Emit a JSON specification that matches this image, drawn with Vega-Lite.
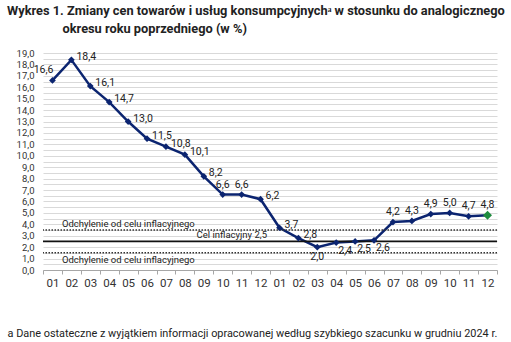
{
  "$schema": "https://vega.github.io/schema/vega-lite/v6.json",
  "width": 454,
  "height": 217,
  "autosize": {"type": "none"},
  "padding": {"left": 43, "top": 53, "right": 14, "bottom": 72},
  "background": "white",
  "config": {
    "locale": {"number": {"decimal": ",", "thousands": " ", "grouping": [3], "currency": ["", " zł"]}},
    "font": "Roboto",
    "view": {"stroke": null},
    "axis": {"labelOverlap": false},
    "text": {"font": "Roboto", "fontSize": 10.5, "color": "#222"}
  },
  "title": {
    "text": "Wykres 1. Zmiany cen towarów i usług konsumpcyjnychᵃ w stosunku do analogicznego",
    "anchor": "start",
    "frame": "group",
    "dx": -36,
    "offset": 4,
    "font": "Roboto",
    "fontSize": 12.8,
    "fontWeight": "bold",
    "color": "#222"
  },
  "datasets": {
    "cpi": [
      {"period": "2023-01", "value": 16.6},
      {"period": "2023-02", "value": 18.4},
      {"period": "2023-03", "value": 16.1},
      {"period": "2023-04", "value": 14.7},
      {"period": "2023-05", "value": 13.0},
      {"period": "2023-06", "value": 11.5},
      {"period": "2023-07", "value": 10.8},
      {"period": "2023-08", "value": 10.1},
      {"period": "2023-09", "value": 8.2},
      {"period": "2023-10", "value": 6.6},
      {"period": "2023-11", "value": 6.6},
      {"period": "2023-12", "value": 6.2},
      {"period": "2024-01", "value": 3.7},
      {"period": "2024-02", "value": 2.8},
      {"period": "2024-03", "value": 2.0},
      {"period": "2024-04", "value": 2.4},
      {"period": "2024-05", "value": 2.5},
      {"period": "2024-06", "value": 2.6},
      {"period": "2024-07", "value": 4.2},
      {"period": "2024-08", "value": 4.3},
      {"period": "2024-09", "value": 4.9},
      {"period": "2024-10", "value": 5.0},
      {"period": "2024-11", "value": 4.7},
      {"period": "2024-12", "value": 4.8}
    ],
    "refs": [
      {"value": 3.5, "label": "Odchylenie od celu inflacyjnego", "kind": "dev"},
      {"value": 2.5, "label": "Cel inflacyjny 2,5", "kind": "target"},
      {"value": 1.5, "label": "Odchylenie od celu inflacyjnego", "kind": "dev"}
    ]
  },
  "resolve": {"axis": {"y": "independent"}},
  "layer": [
    {
      "data": {"name": "cpi"},
      "mark": {"type": "rule", "opacity": 0},
      "encoding": {
        "y": {
          "field": "value", "type": "quantitative",
          "scale": {"domain": [0, 19], "nice": false, "zero": true},
          "axis": {
            "orient": "right",
            "values": [0,0.5,1,1.5,2,2.5,3,3.5,4,4.5,5,5.5,6,6.5,7,7.5,8,8.5,9,9.5,10,10.5,11,11.5,12,12.5,13,13.5,14,14.5,15,15.5,16,16.5,17,17.5,18,18.5,19],
            "tickCount": 100,
            "labels": false,
            "ticks": false,
            "domain": false,
            "grid": true,
            "gridColor": "#d9d9d9",
            "gridWidth": 1,
            "title": null
          }
        }
      }
    },
    {
      "layer": [
        {
          "data": {"name": "cpi"},
          "mark": {"type": "line", "color": "#0b2470", "strokeWidth": 2.5},
          "encoding": {
            "x": {
              "field": "period", "type": "ordinal", "bandPosition": 0.5,
              "scale": {
                "type": "band", "paddingInner": 0, "paddingOuter": 0,
                "domain": ["2023-01","2023-02","2023-03","2023-04","2023-05","2023-06","2023-07","2023-08","2023-09","2023-10","2023-11","2023-12","2024-01","2024-02","2024-03","2024-04","2024-05","2024-06","2024-07","2024-08","2024-09","2024-10","2024-11","2024-12"]
              },
              "axis": {
                "labelExpr": "isString(datum.value) ? substring(datum.value, 5) : ''",
                "labelAngle": 0,
                "labelFontSize": 11.5,
                "labelColor": "#333",
                "labelPadding": 3,
                "tickBand": "extent",
                "tickSize": 4,
                "tickColor": "#a6a6a6",
                "domainColor": "#a6a6a6",
                "grid": false,
                "title": "a Dane ostateczne z wyjątkiem informacji opracowanej według szybkiego szacunku w grudniu 2024 r.",
                "titleX": -36,
                "titleY": 63,
                "titleAlign": "left",
                "titleAnchor": "start",
                "titleBaseline": "middle",
                "titleFontSize": 10.9,
                "titleFontWeight": "normal",
                "titleColor": "#222"
              }
            },
            "y": {
              "field": "value", "type": "quantitative",
              "scale": {"domain": [0, 19], "nice": false, "zero": true},
              "axis": {
                "values": [0,1,2,3,4,5,6,7,8,9,10,11,12,13,14,15,16,17,18,19],
                "tickCount": 100,
                "format": ".1f",
                "labelOverlap": false,
                "labelBound": false,
                "labelFontSize": 9.5,
                "labelColor": "#333",
                "labelPadding": 9,
                "ticks": false,
                "domain": false,
                "grid": false,
                "title": "okresu roku poprzedniego (w %)",
                "titleAngle": 0,
                "titleX": 19,
                "titleY": -25,
                "titleAlign": "left",
                "titleAnchor": "start",
                "titleBaseline": "middle",
                "titleFont": "Roboto",
                "titleFontSize": 12.8,
                "titleFontWeight": "bold",
                "titleColor": "#222"
              }
            }
          }
        },
        {
          "data": {"name": "refs"},
          "transform": [{"filter": "datum.kind == 'dev'"}],
          "mark": {"type": "rule", "color": "#333", "strokeWidth": 1.5, "strokeDash": [1.5, 1.5]},
          "encoding": {"y": {"field": "value", "type": "quantitative"}}
        },
        {
          "data": {"name": "refs"},
          "transform": [{"filter": "datum.kind == 'target'"}],
          "mark": {"type": "rule", "color": "#111", "strokeWidth": 1.8},
          "encoding": {"y": {"field": "value", "type": "quantitative"}}
        },
        {
          "data": {"name": "refs"},
          "transform": [{"filter": "datum.value == 3.5"}],
          "mark": {"type": "text", "align": "left", "baseline": "bottom", "dy": -1, "fontSize": 9.5},
          "encoding": {
            "x": {"datum": "2023-02", "type": "ordinal", "bandPosition": 0},
            "y": {"field": "value", "type": "quantitative"},
            "text": {"field": "label"}
          }
        },
        {
          "data": {"name": "refs"},
          "transform": [{"filter": "datum.value == 2.5"}],
          "mark": {"type": "text", "align": "right", "baseline": "bottom", "dx": -3, "dy": -1, "fontSize": 9.5},
          "encoding": {
            "x": {"datum": "2024-01", "type": "ordinal", "bandPosition": 0},
            "y": {"field": "value", "type": "quantitative"},
            "text": {"field": "label"}
          }
        },
        {
          "data": {"name": "refs"},
          "transform": [{"filter": "datum.value == 1.5"}],
          "mark": {"type": "text", "align": "left", "baseline": "top", "dy": 2, "fontSize": 9.5},
          "encoding": {
            "x": {"datum": "2023-02", "type": "ordinal", "bandPosition": 0},
            "y": {"field": "value", "type": "quantitative"},
            "text": {"field": "label"}
          }
        },
        {
          "data": {"name": "cpi"},
          "transform": [{"filter": "datum.period != '2024-12'"}],
          "mark": {"type": "point", "shape": "diamond", "filled": true, "color": "#0b2470", "size": 45, "opacity": 1},
          "encoding": {
            "x": {"field": "period", "type": "ordinal", "bandPosition": 0.5},
            "y": {"field": "value", "type": "quantitative"}
          }
        },
        {
          "data": {"name": "cpi"},
          "transform": [{"filter": "datum.period == '2024-12'"}],
          "mark": {"type": "point", "shape": "diamond", "filled": true, "color": "#1e8c3e", "size": 80, "opacity": 1},
          "encoding": {
            "x": {"field": "period", "type": "ordinal", "bandPosition": 0.5},
            "y": {"field": "value", "type": "quantitative"}
          }
        },
        {
          "data": {"name": "cpi"},
          "transform": [{"filter": "datum.period == '2023-01'"}],
          "mark": {"type": "text", "align": "right", "baseline": "middle", "dx": 1, "dy": -10},
          "encoding": {
            "x": {"field": "period", "type": "ordinal", "bandPosition": 0.5},
            "y": {"field": "value", "type": "quantitative"},
            "text": {"field": "value", "type": "quantitative", "format": ".1f"}
          }
        },
        {
          "data": {"name": "cpi"},
          "transform": [{"filter": "indexof(['2023-02','2023-03','2023-04','2023-05','2023-06','2023-07','2023-08','2023-09','2023-12','2024-01','2024-02'], datum.period) >= 0"}],
          "mark": {"type": "text", "align": "left", "baseline": "middle", "dx": 5, "dy": -3},
          "encoding": {
            "x": {"field": "period", "type": "ordinal", "bandPosition": 0.5},
            "y": {"field": "value", "type": "quantitative"},
            "text": {"field": "value", "type": "quantitative", "format": ".1f"}
          }
        },
        {
          "data": {"name": "cpi"},
          "transform": [{"filter": "indexof(['2023-10','2023-11','2024-07','2024-08','2024-09','2024-10','2024-11','2024-12'], datum.period) >= 0"}],
          "mark": {"type": "text", "align": "center", "baseline": "middle", "dy": -10},
          "encoding": {
            "x": {"field": "period", "type": "ordinal", "bandPosition": 0.5},
            "y": {"field": "value", "type": "quantitative"},
            "text": {"field": "value", "type": "quantitative", "format": ".1f"}
          }
        },
        {
          "data": {"name": "cpi"},
          "transform": [{"filter": "datum.period == '2024-03'"}],
          "mark": {"type": "text", "align": "center", "baseline": "middle", "dy": 10},
          "encoding": {
            "x": {"field": "period", "type": "ordinal", "bandPosition": 0.5},
            "y": {"field": "value", "type": "quantitative"},
            "text": {"field": "value", "type": "quantitative", "format": ".1f"}
          }
        },
        {
          "data": {"name": "cpi"},
          "transform": [{"filter": "indexof(['2024-04','2024-05','2024-06'], datum.period) >= 0"}],
          "mark": {"type": "text", "align": "left", "baseline": "middle", "dx": 2, "dy": 8},
          "encoding": {
            "x": {"field": "period", "type": "ordinal", "bandPosition": 0.5},
            "y": {"field": "value", "type": "quantitative"},
            "text": {"field": "value", "type": "quantitative", "format": ".1f"}
          }
        },
        {
          "mark": {"type": "text", "align": "center", "baseline": "middle", "fontSize": 11.5, "color": "#333"},
          "encoding": {
            "x": {"datum": "2023-07", "type": "ordinal", "bandPosition": 0},
            "y": {"datum": -2.35, "type": "quantitative"},
            "text": {"value": "2023"}
          }
        },
        {
          "mark": {"type": "text", "align": "center", "baseline": "middle", "fontSize": 11.5, "color": "#333"},
          "encoding": {
            "x": {"datum": "2024-07", "type": "ordinal", "bandPosition": 0},
            "y": {"datum": -2.35, "type": "quantitative"},
            "text": {"value": "2024"}
          }
        },
        {
          "mark": {"type": "rule", "color": "#bfbfbf", "strokeWidth": 1},
          "encoding": {
            "x": {"datum": "2024-01", "type": "ordinal", "bandPosition": 0},
            "y": {"datum": 0, "type": "quantitative"},
            "y2": {"datum": -2.2}
          }
        }
      ]
    }
  ]
}
